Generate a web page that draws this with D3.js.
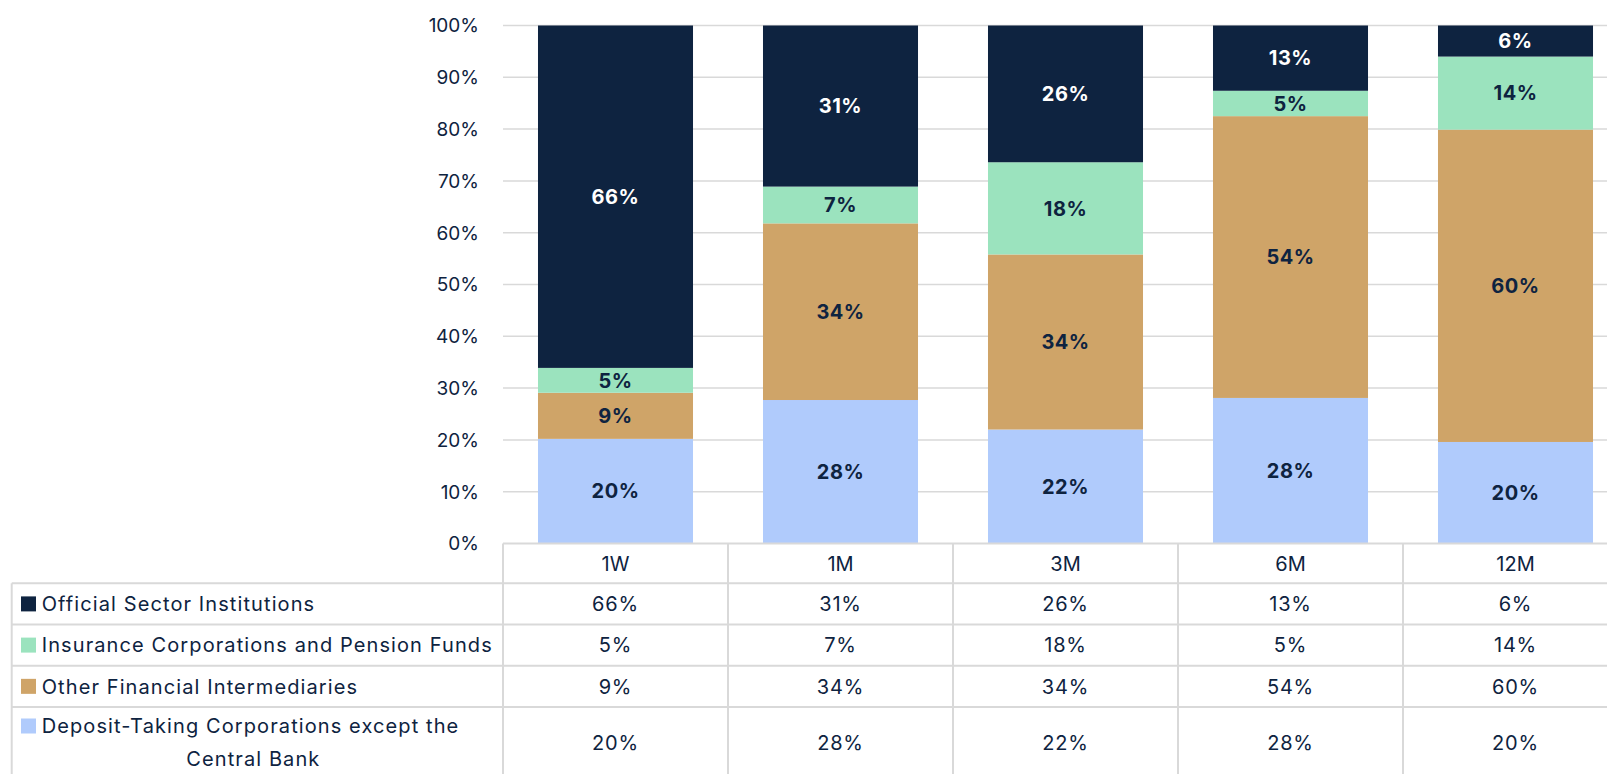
<!DOCTYPE html>
<html>
<head>
<meta charset="utf-8">
<script src="https://cdn.jsdelivr.net/npm/d3@7"></script>
<style>
  html, body { margin: 0; padding: 0; background: #fff; }
  svg { display: block; font-family: Inter, "Open Sans", sans-serif; }
</style>
</head>
<body>
<svg id="chart" width="1607" height="774"></svg>
<script>
// Tenor buckets along the x axis / table columns.
const categories = ["1W", "1M", "3M", "6M", "12M"];

// Shares (%) per holder sector; labels are rounded.
const deposit = [20.2, 27.7, 22.0, 28.1, 19.6];
const otherFin = [8.9, 34.1, 33.8, 54.4, 60.3];
const insurance = [4.8, 7.1, 17.8, 4.9, 14.1];
const official = [66.1, 31.1, 26.4, 12.6, 6.0];

const yTicks = [0, 10, 20, 30, 40, 50, 60, 70, 80, 90, 100];

// Stack order bottom → top; table order is the reverse.
const series = [
    { key: "deposit", name: ["Deposit-Taking Corporations except the", "Central Bank"], values: deposit, color: "#b0cbfc", text: "#0e2340" },
    { key: "otherFin", name: ["Other Financial Intermediaries"], values: otherFin, color: "#cfa468", text: "#0e2340" },
    { key: "insurance", name: ["Insurance Corporations and Pension Funds"], values: insurance, color: "#9be3be", text: "#0e2340" },
    { key: "official", name: ["Official Sector Institutions"], values: official, color: "#0e2340", text: "#ffffff" },
];

const NAVY = "#0e2340";
const GRID = "#d9d9d9";
const W = 1607;

const PLOT_LEFT = 503;
const COL_W = 225;
const PLOT_TOP = 25.5;
const PLOT_BOTTOM = 543.5;
const TABLE_LEFT = 11.7;
// Row boundaries of the data table under the axis (header row first).
const ROW_EDGES = [543.5, 583.3, 624.5, 665.7, 707, 778];

const svg = d3.select("#chart");

const x = d3.scaleBand()
    .domain(categories)
    .range([PLOT_LEFT, PLOT_LEFT + COL_W * categories.length])
    .paddingInner(0.311)
    .paddingOuter(0.1555);

const y = d3.scaleLinear().domain([0, 100]).range([PLOT_BOTTOM, PLOT_TOP]);

const rows = categories.map((c, i) => {
    const r = { cat: c };
    series.forEach((s) => { r[s.key] = s.values[i]; });
    return r;
});
const stacked = d3.stack().keys(series.map((s) => s.key))(rows);

// Gridlines
svg.append("g")
    .selectAll("line")
    .data(yTicks.slice(1))
    .join("line")
    .attr("x1", PLOT_LEFT).attr("x2", W)
    .attr("y1", (d) => y(d)).attr("y2", (d) => y(d))
    .attr("stroke", GRID).attr("stroke-width", 1.5);

// Y axis tick labels
svg.append("g")
    .selectAll("text")
    .data(yTicks)
    .join("text")
    .attr("x", 479)
    .attr("y", (d) => y(d))
    .attr("dy", "0.36em")
    .attr("text-anchor", "end")
    .attr("fill", NAVY)
    .attr("font-size", 19)
    .text((d) => d + "%");

// Bars
const layers = svg.append("g")
    .selectAll("g")
    .data(stacked)
    .join("g")
    .attr("fill", (d, i) => series[i].color);

layers.selectAll("rect")
    .data((d) => d)
    .join("rect")
    .attr("x", (d) => x(d.data.cat))
    .attr("width", x.bandwidth())
    .attr("y", (d) => y(d[1]))
    .attr("height", (d) => y(d[0]) - y(d[1]));

// Segment labels
stacked.forEach((layer, i) => {
    svg.append("g")
        .selectAll("text")
        .data(layer)
        .join("text")
        .attr("x", (d) => x(d.data.cat) + x.bandwidth() / 2)
        .attr("y", (d) => (y(d[0]) + y(d[1])) / 2)
        .attr("dy", "0.36em")
        .attr("text-anchor", "middle")
        .attr("font-weight", 700)
        .attr("font-size", 20)
        .attr("letter-spacing", 0.5)
        .attr("fill", series[i].text)
        .text((d) => Math.round(d[1] - d[0]) + "%");
});

// Data table
const table = svg.append("g").attr("class", "table");
const tableRows = series.slice().reverse();
const colEdges = d3.range(categories.length + 1).map((i) => PLOT_LEFT + i * COL_W);

// horizontal rules
table.append("line")
    .attr("x1", PLOT_LEFT).attr("x2", W)
    .attr("y1", ROW_EDGES[0]).attr("y2", ROW_EDGES[0])
    .attr("stroke", GRID).attr("stroke-width", 2);
table.selectAll("line.h")
    .data(ROW_EDGES.slice(1, -1))
    .join("line")
    .attr("class", "h")
    .attr("x1", TABLE_LEFT).attr("x2", W)
    .attr("y1", (d) => d).attr("y2", (d) => d)
    .attr("stroke", GRID).attr("stroke-width", 2);

// vertical rules
table.selectAll("line.v")
    .data(colEdges)
    .join("line")
    .attr("class", "v")
    .attr("x1", (d) => d).attr("x2", (d) => d)
    .attr("y1", ROW_EDGES[0]).attr("y2", ROW_EDGES[ROW_EDGES.length - 1])
    .attr("stroke", GRID).attr("stroke-width", 2);
table.append("line")
    .attr("x1", TABLE_LEFT).attr("x2", TABLE_LEFT)
    .attr("y1", ROW_EDGES[1]).attr("y2", ROW_EDGES[ROW_EDGES.length - 1])
    .attr("stroke", GRID).attr("stroke-width", 2);

// header row
table.selectAll("text.head")
    .data(categories)
    .join("text")
    .attr("class", "head")
    .attr("x", (d) => x(d) + x.bandwidth() / 2)
    .attr("y", (ROW_EDGES[0] + ROW_EDGES[1]) / 2)
    .attr("dy", "0.36em")
    .attr("text-anchor", "middle")
    .attr("font-size", 20)
    .attr("fill", NAVY)
    .text((d) => d);

tableRows.forEach((s, r) => {
    const top = ROW_EDGES[r + 1];
    const bottom = ROW_EDGES[r + 2];
    const mid = (top + bottom) / 2;
    const lineY = s.name.length > 1 ? [mid - 16.5, mid + 16] : [mid];

    table.append("rect")
        .attr("x", 21).attr("y", lineY[0] - 7.5)
        .attr("width", 15).attr("height", 15)
        .attr("fill", s.color);

    s.name.forEach((t, k) => {
        table.append("text")
            .attr("x", k === 0 ? 41.7 : (TABLE_LEFT + PLOT_LEFT) / 2 - 4)
            .attr("y", lineY[k])
            .attr("dy", "0.36em")
            .attr("text-anchor", k === 0 ? "start" : "middle")
            .attr("font-size", 20)
            .attr("letter-spacing", 1.1)
            .attr("fill", NAVY)
            .text(t);
    });

    table.selectAll(null)
        .data(s.values)
        .join("text")
        .attr("x", (d, i) => x(categories[i]) + x.bandwidth() / 2)
        .attr("y", mid)
        .attr("dy", "0.36em")
        .attr("text-anchor", "middle")
        .attr("font-size", 20)
        .attr("letter-spacing", 0.8)
        .attr("fill", NAVY)
        .text((d) => Math.round(d) + "%");
});
</script>
</body>
</html>
